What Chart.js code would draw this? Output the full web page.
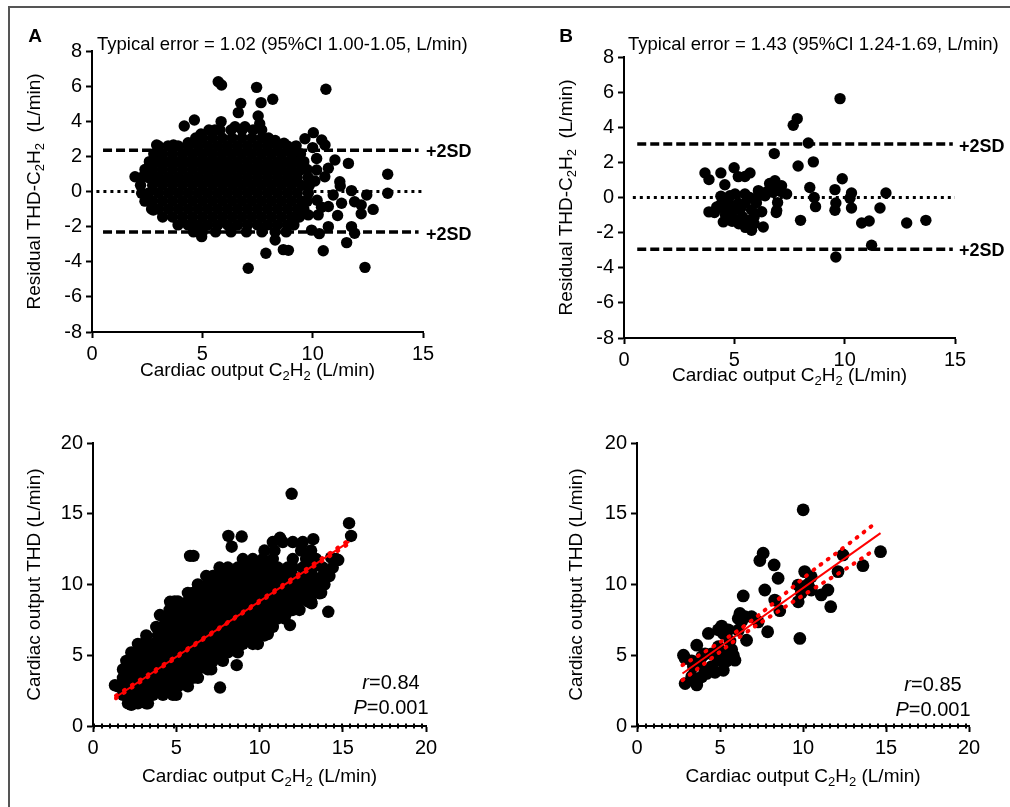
<!DOCTYPE html>
<html>
<head>
<meta charset="utf-8">
<title>Cardiac output THD vs C2H2</title>
<script src="https://cdn.jsdelivr.net/npm/chart.js@4"></script>
<style>
    body { margin: 0; background: #fff; }
    #frame { position: absolute; left: 8px; top: 6px; width: 1010px; height: 810px;
             border-left: 2px solid #555; border-top: 2px solid #555; }
    canvas { position: absolute; }
</style>
</head>
<body>
<div id="frame"></div>
<canvas id="chartA" width="505" height="400" style="left:0;top:0"></canvas>
<canvas id="chartB" width="505" height="400" style="left:505px;top:0"></canvas>
<canvas id="chartC" width="505" height="407" style="left:0;top:400px"></canvas>
<canvas id="chartD" width="505" height="407" style="left:505px;top:400px"></canvas>
<script>
    const FONT = "'Liberation Sans', Arial, Helvetica, sans-serif";

    // ---- Panel A: residuals, all measurements (dense cloud as rows [y, x values]) ----
    const aRows = [
        [3.5, [5.3, 5.8, 6.3, 6.8, 7.3]],
        [3.05, [4.7, 5.0, 5.45, 5.9, 6.35, 6.8, 7.25, 7.7, 8.0]],
        [2.6, [3.0, 3.45, 3.9, 4.35, 4.8, 5.25, 5.7, 6.15, 6.6, 7.05, 7.5, 7.95, 8.4, 8.85, 9.25]],
        [2.15, [2.8, 3.2, 3.65, 4.1, 4.55, 5.0, 5.45, 5.9, 6.35, 6.8, 7.25, 7.7, 8.15, 8.6, 9.05, 9.45]],
        [1.7, [2.6, 3.0, 3.45, 3.9, 4.35, 4.8, 5.25, 5.7, 6.15, 6.6, 7.05, 7.5, 7.95, 8.4, 8.85, 9.3, 9.6]],
        [1.25, [2.4, 2.75, 3.2, 3.65, 4.1, 4.55, 5.0, 5.45, 5.9, 6.35, 6.8, 7.25, 7.7, 8.15, 8.6, 9.05, 9.5, 9.75]],
        [0.8, [2.25, 2.55, 3.0, 3.45, 3.9, 4.35, 4.8, 5.25, 5.7, 6.15, 6.6, 7.05, 7.5, 7.95, 8.4, 8.85, 9.3, 9.8]],
        [0.35, [2.2, 2.75, 3.2, 3.65, 4.1, 4.55, 5.0, 5.45, 5.9, 6.35, 6.8, 7.25, 7.7, 8.15, 8.6, 9.05, 9.5, 9.85]],
        [-0.1, [2.25, 2.55, 3.0, 3.45, 3.9, 4.35, 4.8, 5.25, 5.7, 6.15, 6.6, 7.05, 7.5, 7.95, 8.4, 8.85, 9.3, 9.8]],
        [-0.55, [2.4, 2.75, 3.2, 3.65, 4.1, 4.55, 5.0, 5.45, 5.9, 6.35, 6.8, 7.25, 7.7, 8.15, 8.6, 9.05, 9.5, 9.75]],
        [-1.0, [2.7, 3.0, 3.45, 3.9, 4.35, 4.8, 5.25, 5.7, 6.15, 6.6, 7.05, 7.5, 7.95, 8.4, 8.85, 9.3, 9.6]],
        [-1.45, [3.2, 3.65, 4.1, 4.55, 5.0, 5.45, 5.9, 6.35, 6.8, 7.25, 7.7, 8.15, 8.6, 9.05, 9.4]],
        [-1.9, [3.9, 4.35, 4.8, 5.25, 5.7, 6.15, 6.6, 7.05, 7.5, 7.95, 8.4, 8.85, 9.15]],
        [-2.3, [4.6, 5.0, 5.6, 6.3, 7.0, 7.7, 8.3, 8.8]]
    ];
    const aOutliers = [
        [1.95, 0.84], [2.78, -1.05], [2.93, 2.65], [3.69, 2.65], [4.36, 2.78], [4.18, 3.73], [4.64, 4.07],
        [4.94, 3.27], [5.57, 3.5], [5.72, 6.25], [5.87, 6.06], [5.85, 3.98], [6.48, 3.69], [6.63, 4.49],
        [6.74, 5.02], [6.93, 3.69], [7.46, 5.93], [7.53, 4.3], [7.6, 3.86], [7.66, 5.06], [7.69, 3.5],
        [8.19, 5.25], [8.3, 2.9], [8.7, 2.75], [9.65, 3.0], [10.03, 3.35], [10.41, 2.93], [10.56, 2.65],
        [10.6, 5.82], [10.18, 1.88], [11.01, 1.79], [11.62, 1.6], [10.71, 1.32], [11.23, 0.56], [11.25, 0.31],
        [13.4, 0.98], [13.4, -0.1], [11.76, 0.05], [12.45, -0.2], [10.93, -0.2], [11.31, -0.67], [11.9, -0.58],
        [12.2, -0.77], [12.74, -1.02], [12.2, -1.27], [10.71, -0.85], [11.13, -1.37], [10.25, -1.33],
        [10.71, -2.0], [11.76, -2.0], [11.9, -2.38], [11.54, -2.91], [10.48, -3.37], [12.37, -4.32],
        [7.08, -4.37], [7.88, -3.52], [8.67, -3.31], [8.9, -3.35], [8.3, -2.76], [9.95, -2.2], [9.8, -1.33],
        [4.97, -2.57], [10.2, -0.5], [10.1, 0.6], [10.4, -0.9], [10.0, 2.5], [10.3, -2.4], [10.18, 1.22],
        [10.55, 0.84]
    ];
    const aSD = [2.35, -2.3];
    const aSDRange = [0.5, 14.8];
    const aZeroRange = [0.2, 14.95];

    // ---- Panel B: residuals, subgroup ----
    const bPoints = [
        [9.79, 5.63], [7.85, 4.49], [7.67, 4.11], [8.35, 3.1], [6.81, 2.5], [7.89, 1.79], [8.58, 2.03],
        [9.89, 1.07], [3.67, 1.4], [3.85, 1.02], [4.39, 1.4], [4.99, 1.69], [5.18, 1.19], [5.71, 1.4],
        [5.48, 1.2], [4.57, 0.73], [4.39, 0.07], [3.85, -0.82], [4.2, -0.54], [4.5, -1.39], [4.96, -1.2],
        [5.78, -1.87], [6.31, -1.68], [6.24, -0.81], [5.78, -0.71], [5.36, -1.09], [5.18, -0.35],
        [5.03, 0.2], [4.73, -0.13], [5.48, 0.2], [6.09, 0.39], [6.39, 0.1], [6.69, 0.57], [6.84, 0.95],
        [7.14, 0.67], [7.37, 0.2], [6.92, -0.74], [6.96, -0.29], [8.0, -1.3], [8.42, 0.57], [8.62, 0.0],
        [8.68, -0.52], [9.56, 0.45], [9.6, -0.31], [9.56, -0.73], [10.31, 0.26], [10.24, -0.04],
        [10.31, -0.6], [10.77, -1.45], [11.11, -1.34], [11.6, -0.6], [11.87, 0.26], [11.22, -2.72],
        [9.6, -3.39], [12.81, -1.45], [13.68, -1.3],
        [4.3, -0.5], [4.6, -0.8], [4.8, -0.45], [5.0, -0.7], [5.3, -0.6], [5.5, -0.3], [5.6, -1.3],
        [5.9, -1.1], [6.0, -0.3], [6.1, 0.1], [6.5, 0.35], [4.6, -1.0], [4.9, -1.35], [5.2, -1.5],
        [5.5, -1.7], [4.1, -0.85], [4.45, -0.25], [4.8, 0.1], [5.7, 0.0], [6.6, 0.8], [6.75, 0.3],
        [7.1, 0.35], [6.9, -0.85], [5.9, -1.5]
    ];
    const bSD = [3.05, -2.95];
    const bSDRange = [0.6, 14.9];
    const bZeroRange = [0.4, 15];

    // ---- Panel C: THD vs C2H2, all measurements ----
    const cRows = [
        [1.6, [2.1, 2.7, 3.3]],
        [2.2, [1.8, 2.4, 3.0, 3.6, 4.2, 4.8, 5.0]],
        [2.8, [1.5, 2.1, 2.7, 3.3, 3.9, 4.5, 5.1, 5.7]],
        [3.4, [1.8, 2.4, 3.0, 3.6, 4.2, 4.8, 5.4, 6.0, 6.3]],
        [4.0, [1.8, 2.1, 2.7, 3.3, 3.9, 4.5, 5.1, 5.7, 6.3, 6.9, 7.1]],
        [4.6, [2.0, 2.4, 3.0, 3.6, 4.2, 4.8, 5.4, 6.0, 6.6, 7.2, 7.8]],
        [5.2, [2.3, 2.7, 3.3, 3.9, 4.5, 5.1, 5.7, 6.3, 6.9, 7.5, 8.1, 8.7]],
        [5.8, [2.7, 3.0, 3.6, 4.2, 4.8, 5.4, 6.0, 6.6, 7.2, 7.8, 8.4, 9.0, 9.6, 9.9]],
        [6.4, [3.2, 3.9, 4.5, 5.1, 5.7, 6.3, 6.9, 7.5, 8.1, 8.7, 9.3, 9.9, 10.3]],
        [7.0, [3.8, 4.2, 4.8, 5.4, 6.0, 6.6, 7.2, 7.8, 8.4, 9.0, 9.6, 10.2, 10.8]],
        [7.6, [4.3, 4.5, 5.1, 5.7, 6.3, 6.9, 7.5, 8.1, 8.7, 9.3, 9.9, 10.5, 11.1, 11.5]],
        [8.2, [4.6, 5.0, 5.4, 6.0, 6.6, 7.2, 7.8, 8.4, 9.0, 9.6, 10.2, 10.8, 11.4, 12.0, 12.4]],
        [8.8, [4.9, 5.1, 5.7, 6.3, 6.9, 7.5, 8.1, 8.7, 9.3, 9.9, 10.5, 11.1, 11.7, 12.3, 12.9, 13.1]],
        [9.4, [5.7, 6.0, 6.6, 7.2, 7.8, 8.4, 9.0, 9.6, 10.2, 10.8, 11.4, 12.0, 12.6, 13.2, 13.7]],
        [10.0, [6.3, 6.9, 7.5, 8.1, 8.7, 9.3, 9.9, 10.5, 11.1, 11.7, 12.3, 12.9, 13.5, 13.9]],
        [10.6, [6.8, 7.2, 7.8, 8.4, 9.0, 9.6, 10.2, 10.8, 11.4, 12.0, 12.6, 13.2, 13.8, 14.2]],
        [11.2, [7.6, 8.1, 8.7, 9.3, 9.9, 10.5, 11.1, 11.7, 12.6, 13.2, 13.8, 14.4]],
        [11.8, [9.0, 9.6, 10.2, 10.8, 12.0, 12.8, 13.4, 14.6]],
        [12.4, [10.3, 10.9, 12.5, 13.1]],
        [13.0, [10.8, 11.4, 12.0, 12.6]]
    ];
    const cOutliers = [
        [1.32, 2.88], [2.42, 1.7], [11.93, 16.41], [15.38, 14.33], [15.5, 13.43], [8.13, 13.43],
        [8.93, 13.39], [8.33, 12.67], [6.03, 12.02], [5.83, 12.02], [13.23, 13.2], [12.53, 12.9],
        [11.23, 13.3], [14.73, 11.73], [14.13, 8.07], [13.13, 8.67], [11.83, 7.13], [7.63, 2.72],
        [8.63, 4.3], [4.02, 7.84], [4.63, 8.78], [2.3, 1.5], [3.2, 1.6], [12.2, 8.6], [11.5, 7.8],
        [10.5, 6.5], [11.3, 9.5], [12.8, 9.7], [13.5, 9.9], [13.9, 10.7], [14.3, 11.9], [12.0, 11.2],
        [10.93, 7.72], [11.6, 7.96], [13.6, 9.38]
    ];
    const cFitX = [1.38, 15.39];
    const cFitY = [2.05, 13.03];
    const cCiX = [1.38, 8, 15.39];
    const cCiUpper = [2.14, 7.27, 13.15];
    const cCiLower = [1.96, 7.21, 12.91];

    // ---- Panel D: THD vs C2H2, subgroup ----
    const dPoints = [
        [10.01, 15.28], [14.67, 12.32], [13.61, 11.33], [12.41, 12.09], [12.11, 10.91], [11.67, 8.43],
        [11.5, 9.61], [11.1, 9.26], [10.5, 9.61], [10.1, 10.91], [10.5, 10.55], [9.71, 9.96], [9.71, 8.78],
        [9.81, 6.19], [7.6, 12.21], [7.4, 11.69], [8.26, 11.38], [8.5, 10.44], [7.7, 9.61], [8.3, 8.9],
        [8.6, 8.15], [7.87, 6.66], [6.4, 9.19], [6.1, 7.6], [6.5, 7.72], [6.9, 7.72], [7.3, 7.36],
        [6.6, 6.06], [6.1, 6.77], [5.9, 4.65], [5.2, 6.54], [5.1, 7.06], [4.3, 6.54], [3.6, 5.71],
        [2.8, 5.0], [2.9, 4.77], [2.9, 3.0], [3.6, 2.9], [3.9, 3.48], [4.2, 3.72], [3.7, 4.42], [4.1, 5.1],
        [4.5, 5.1], [4.5, 4.2], [4.9, 5.6], [5.2, 3.94], [5.3, 5.1], [5.7, 5.4], [5.6, 6.0], [4.9, 4.65],
        [4.1, 3.95], [3.4, 4.2], [3.3, 3.5], [9.9, 9.4], [10.3, 10.0], [6.3, 7.4], [5.5, 6.8], [4.9, 6.8],
        [6.2, 7.95], [5.0, 5.0], [4.7, 3.8], [3.9, 4.9], [3.3, 4.6], [5.8, 5.0], [5.4, 4.6]
    ];
    const dFitX = [2.74, 14.67];
    const dFitY = [3.71, 13.63];
    const dCiUpperX = [2.74, 4.5, 6.5, 8.5, 10.5, 12.5, 14.41];
    const dCiUpper = [4.3, 5.55, 7.1, 8.95, 10.9, 12.65, 14.38];
    const dCiLowerX = [2.74, 4.5, 6.5, 8.5, 10.5, 12.5, 14.15];
    const dCiLower = [3.24, 4.8, 6.55, 8.1, 9.6, 11.05, 12.32];

    // ---- helpers ----
    function fromRows(rows, extra) {
        const pts = [];
        rows.forEach(([y, xs]) => xs.forEach(x => pts.push({x: x, y: y})));
        extra.forEach(([x, y]) => pts.push({x: x, y: y}));
        return pts;
    }
    function pairs(list) { return list.map(([x, y]) => ({x: x, y: y})); }
    function zip(xs, ys) { return xs.map((x, i) => ({x: x, y: ys[i]})); }
    function hline(y, range) { return [{x: range[0], y: y}, {x: range[1], y: y}]; }

    function dots(data, r) {
        return {data: data, pointRadius: r, pointHoverRadius: r, backgroundColor: '#000', borderWidth: 0};
    }
    function line(data, color, width, dash, extra) {
        return Object.assign({data: data, showLine: true, pointRadius: 0, borderColor: color,
            borderWidth: width, borderDash: dash || [], fill: false}, extra || {});
    }

    // text with ₂ drawn as a real subscript
    function segs(text, size, weight, style) {
        const out = [];
        const f = s => `${style || 'normal'} ${weight || 'normal'} ${s}px ${FONT}`;
        let buf = '';
        for (const ch of text) {
            if (ch === '₂') {
                if (buf) out.push({t: buf, font: f(size)});
                buf = '';
                out.push({t: '2', font: f(Math.round(size * 0.68)), dy: size * 0.3});
            } else {
                buf += ch;
            }
        }
        if (buf) out.push({t: buf, font: f(size)});
        return out;
    }

    function drawRich(ctx, parts, x, y, align, angle) {
        ctx.save();
        ctx.translate(x, y);
        ctx.rotate(angle || 0);
        let total = 0;
        parts.forEach(p => { ctx.font = p.font; p.w = ctx.measureText(p.t).width; total += p.w; });
        let cx = align === 'left' ? 0 : align === 'right' ? -total : -total / 2;
        ctx.textBaseline = 'middle';
        ctx.textAlign = 'left';
        ctx.fillStyle = '#000';
        parts.forEach(p => { ctx.font = p.font; ctx.fillText(p.t, cx, p.dy || 0); cx += p.w; });
        ctx.restore();
    }

    function textLayer(items) {
        return {
            id: 'textLayer',
            afterDraw(chart) {
                items.forEach(it => {
                    const pos = it.at(chart.chartArea, chart.scales);
                    drawRich(chart.ctx, it.parts, pos[0], pos[1], it.align || 'center', it.angle || 0);
                });
            }
        };
    }

    function axis(min, max, step, size, horizontal) {
        return {
            type: 'linear', min: min, max: max,
            ticks: {stepSize: step, autoSkip: false, maxRotation: 0, padding: 4, color: '#000',
                font: {family: FONT, size: 20}},
            grid: {display: true, drawOnChartArea: false, drawTicks: true, tickLength: 6,
                tickWidth: 2, tickColor: '#000'},
            border: {display: true, color: '#000', width: 2},
            afterFit: s => { if (horizontal) s.height = size; else s.width = size; }
        };
    }

    function build(id, datasets, xa, ya, padding, items) {
        return new Chart(document.getElementById(id), {
            type: 'scatter',
            data: {datasets: datasets},
            options: {
                responsive: false, animation: false, events: [],
                layout: {padding: padding},
                plugins: {legend: {display: false}, tooltip: {enabled: false}},
                scales: {x: xa, y: ya}
            },
            plugins: [textLayer(items)]
        });
    }

    const midX = ca => (ca.left + ca.right) / 2;
    const midY = ca => (ca.top + ca.bottom) / 2;
    const xTitle = 'Cardiac output C₂H₂ (L/min)';

    // ---- A ----
    build('chartA', [
        dots(fromRows(aRows, aOutliers), 5.7),
        line(hline(aSD[0], aSDRange), '#000', 3.5, [9, 4]),
        line(hline(aSD[1], aSDRange), '#000', 3.5, [9, 4]),
        line(hline(0, aZeroRange), '#000', 3, [3, 4])
    ], axis(0, 15, 5, 50, true), axis(-8, 8, 2, 60, false),
        {left: 32, top: 51, right: 82, bottom: 18}, [
        {parts: segs('A', 19, 'bold'), at: () => [35, 37]},
        {parts: segs('Typical error = 1.02 (95%CI 1.00-1.05, L/min)', 18.5), align: 'left', at: ca => [ca.left + 5, 45]},
        {parts: segs('+2SD', 18, 'bold'), align: 'left', at: (ca, s) => [ca.right + 3, s.y.getPixelForValue(aSD[0]) + 2]},
        {parts: segs('+2SD', 18, 'bold'), align: 'left', at: (ca, s) => [ca.right + 3, s.y.getPixelForValue(aSD[1]) + 3]},
        {parts: segs(xTitle, 19), at: ca => [midX(ca), ca.bottom + 39]},
        {parts: segs('Residual THD-C₂H₂  (L/min)', 19), angle: -Math.PI / 2, at: ca => [ca.left - 57, midY(ca)]}
    ]);

    // ---- B ----
    build('chartB', [
        dots(pairs(bPoints), 5.7),
        line(hline(bSD[0], bSDRange), '#000', 3.5, [9, 4]),
        line(hline(bSD[1], bSDRange), '#000', 3.5, [9, 4]),
        line(hline(0, bZeroRange), '#000', 3, [3, 4])
    ], axis(0, 15, 5, 50, true), axis(-8, 8, 2, 60, false),
        {left: 59, top: 57, right: 55, bottom: 12}, [
        {parts: segs('B', 19, 'bold'), at: () => [61, 37]},
        {parts: segs('Typical error = 1.43 (95%CI 1.24-1.69, L/min)', 18.5), align: 'left', at: ca => [ca.left + 4, 45]},
        {parts: segs('+2SD', 18, 'bold'), align: 'left', at: (ca, s) => [ca.right + 4, s.y.getPixelForValue(bSD[0]) + 3]},
        {parts: segs('+2SD', 18, 'bold'), align: 'left', at: (ca, s) => [ca.right + 4, s.y.getPixelForValue(bSD[1]) + 2]},
        {parts: segs(xTitle, 19), at: ca => [midX(ca), ca.bottom + 38]},
        {parts: segs('Residual THD-C₂H₂  (L/min)', 19), angle: -Math.PI / 2, at: ca => [ca.left - 57, midY(ca)]}
    ]);

    // ---- C ----
    build('chartC', [
        line(zip(cFitX, cFitY), '#ff0000', 2),
        line(zip(cCiX, cCiUpper), '#ff0000', 4, [1, 8.5], {borderCapStyle: 'round'}),
        line(zip(cCiX, cCiLower), '#ff0000', 4, [1, 8.5], {borderCapStyle: 'round'}),
        dots(fromRows(cRows, cOutliers), 6.2),
        line(hline(0, [0, 20]), '#000', 5, [2, 6], {clip: false})
    ], axis(0, 20, 5, 50, true), axis(0, 20, 5, 60, false),
        {left: 33, top: 43, right: 79, bottom: 31}, [
        {parts: [{t: 'r', font: `italic 20px ${FONT}`}].concat(segs('=0.84', 20)), at: ca => [ca.right - 35, ca.bottom - 43]},
        {parts: [{t: 'P', font: `italic 20px ${FONT}`}].concat(segs('=0.001', 20)), at: ca => [ca.right - 35, ca.bottom - 18]},
        {parts: segs(xTitle, 19), at: ca => [midX(ca), ca.bottom + 51]},
        {parts: segs('Cardiac output THD (L/min)', 19), angle: -Math.PI / 2, at: ca => [ca.left - 58, midY(ca)]}
    ]);

    // ---- D ----
    build('chartD', [
        line(zip(dFitX, dFitY), '#ff0000', 2),
        line(zip(dCiUpperX, dCiUpper), '#ff0000', 4, [1, 8], {borderCapStyle: 'round', tension: 0.4}),
        line(zip(dCiLowerX, dCiLower), '#ff0000', 4, [1, 8], {borderCapStyle: 'round', tension: 0.4}),
        dots(pairs(dPoints), 6.4),
        line(hline(0, [0, 20]), '#000', 5, [2, 6], {clip: false})
    ], axis(0, 20, 5, 50, true), axis(0, 20, 5, 60, false),
        {left: 72, top: 43, right: 41, bottom: 31}, [
        {parts: [{t: 'r', font: `italic 20px ${FONT}`}].concat(segs('=0.85', 20)), at: ca => [ca.right - 36, ca.bottom - 41]},
        {parts: [{t: 'P', font: `italic 20px ${FONT}`}].concat(segs('=0.001', 20)), at: ca => [ca.right - 36, ca.bottom - 16]},
        {parts: segs(xTitle, 19), at: ca => [midX(ca), ca.bottom + 51]},
        {parts: segs('Cardiac output THD (L/min)', 19), angle: -Math.PI / 2, at: ca => [ca.left - 60, midY(ca)]}
    ]);
</script>
</body>
</html>
